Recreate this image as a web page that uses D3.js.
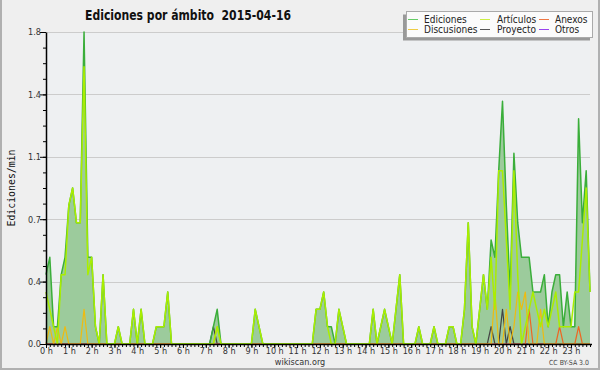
<!DOCTYPE html>
<html><head><meta charset="utf-8">
<script src="https://cdn.jsdelivr.net/npm/d3@7"></script>
<style>
body{margin:0;background:#efefef}
svg{display:block}
text{font-family:"DejaVu Sans",sans-serif}
</style>
</head><body>
<svg id="c" width="600" height="370"></svg>
<script>
// ---- data: values per 10-minute bin (edits/min), 144 bins for 2015-04-16
const hourLabels = d3.range(24).map(h => h + " h");
const yTickValues = [0, 0.36, 0.72, 1.08, 1.44, 1.8];
const seriesNames = ["Ediciones", "Artículos", "Anexos", "Discusiones", "Proyecto", "Otros"];
const ediciones = [
  0.4,0.5,0.1,0.1,0.4,0.5,0.8,0.9,0.7,0.7,1.8,0.5,
  0.5,0.1,0,0.4,0,0,0,0.1,0,0,0,0.2,
  0,0.2,0,0,0,0.1,0.1,0.1,0.3,0,0,0,
  0,0,0,0,0,0,0,0,0.1,0.2,0,0,
  0,0,0,0,0,0,0,0.2,0.1,0,0,0,
  0,0,0,0,0,0,0,0,0,0,0,0.2,
  0.2,0.3,0.1,0.1,0,0.2,0.1,0,0,0,0,0,
  0,0,0.2,0,0.1,0.2,0.1,0,0.2,0.4,0,0,
  0,0,0.1,0,0,0,0.1,0,0,0,0.1,0.1,
  0,0,0.2,0.7,0.1,0,0.2,0.4,0.2,0.6,0.5,1.0,
  1.4,0.8,0.3,1.1,0.7,0.5,0.5,0.5,0.3,0.3,0.3,0.4,
  0.1,0.3,0.4,0.4,0.1,0.3,0.1,0.1,1.3,0.7,1.0,0.3
];
const articulos = [
  0.3,0.2,0.1,0,0.4,0.4,0.8,0.9,0.7,0.7,1.6,0.4,
  0.5,0.1,0,0.4,0,0,0,0.1,0,0,0,0.2,
  0,0.2,0,0,0,0.1,0.1,0.1,0.3,0,0,0,
  0,0,0,0,0,0,0,0,0,0.1,0,0,
  0,0,0,0,0,0,0,0.2,0.1,0,0,0,
  0,0,0,0,0,0,0,0,0,0,0,0.2,
  0.2,0.3,0.1,0,0,0.2,0.1,0,0,0,0,0,
  0,0,0.2,0,0.1,0.2,0.1,0,0.2,0.4,0,0,
  0,0,0.1,0,0,0,0.1,0,0,0,0.1,0.1,
  0,0,0.2,0.7,0.1,0,0.2,0.4,0.2,0.5,0.2,1.0,
  1.0,0.6,0.2,1.0,0.4,0,0.1,0.2,0.3,0.2,0.1,0.2,
  0.1,0.2,0.3,0.1,0.1,0.1,0.1,0.3,0.3,0.6,0.9,0.3
];
const anexos = [
  0,0,0,0,0,0,0,0,0,0,0,0,
  0,0,0,0,0,0,0,0,0,0,0,0,
  0,0,0,0,0,0,0,0,0,0,0,0,
  0,0,0,0,0,0,0,0,0,0,0,0,
  0,0,0,0,0,0,0,0,0,0,0,0,
  0,0,0,0,0,0,0,0,0,0,0,0,
  0,0,0,0,0,0,0,0,0,0,0,0,
  0,0,0,0,0,0,0,0,0,0,0,0,
  0,0,0,0,0,0,0,0,0,0,0,0,
  0,0,0,0,0,0,0,0,0,0,0,0,
  0,0,0,0,0,0,0,0.2,0,0,0,0,
  0,0,0,0.1,0,0,0,0,0.1,0,0,0
];
const discusiones = [
  0,0.1,0,0.1,0,0.1,0,0,0,0,0.2,0,
  0,0,0,0,0,0,0,0,0,0,0,0,
  0,0,0,0,0,0,0,0,0,0,0,0,
  0,0,0,0,0,0,0,0,0,0.1,0,0,
  0,0,0,0,0,0,0,0,0,0,0,0,
  0,0,0,0,0,0,0,0,0,0,0,0,
  0,0,0,0,0,0,0,0,0,0,0,0,
  0,0,0,0,0,0,0,0,0,0,0,0,
  0,0,0,0,0,0,0,0,0,0,0,0,
  0,0,0,0,0,0,0,0,0,0,0.3,0,
  0,0.2,0,0.1,0.3,0.2,0.3,0,0,0,0.2,0,
  0,0,0,0,0,0,0,0,0,0,0,0
];
const proyecto = [
  0,0,0,0,0,0,0,0,0,0,0,0,
  0,0,0,0,0,0,0,0,0,0,0,0,
  0,0,0,0,0,0,0,0,0,0,0,0,
  0,0,0,0,0,0,0,0,0.1,0,0,0,
  0,0,0,0,0,0,0,0,0,0,0,0,
  0,0,0,0,0,0,0,0,0,0,0,0,
  0,0,0,0,0,0,0,0,0,0,0,0,
  0,0,0,0,0,0,0,0,0,0,0,0,
  0,0,0,0,0,0,0,0,0,0,0,0,
  0,0,0,0,0,0,0,0,0,0.1,0,0,
  0.2,0,0.1,0,0,0,0,0,0,0,0,0,
  0,0,0,0,0,0,0,0,0,0,0,0
];
const otros = new Array(144).fill(0);

// ---- drawing
const W = 600, H = 370;
const svg = d3.select("#c");
const colors = {
  Ediciones: "#3aae3a", "Artículos": "#aaee00", Anexos: "#ee6622",
  Discusiones: "#eebb11", Proyecto: "#444444", Otros: "#9944ee"
};
const legendColors = {
  Ediciones: "#66cc66", "Artículos": "#ccee44", Anexos: "#ee7744",
  Discusiones: "#eecc44", Proyecto: "#555555", Otros: "#9944ee"
};

svg.append("rect").attr("width", W).attr("height", H).attr("fill", "#efefef");

const x = d3.scaleLinear().domain([0, 143]).range([46, 590]);
const y = d3.scaleLinear().domain([0, 1.8]).range([344, 32]);

// plot background
svg.append("rect").attr("x", 46).attr("y", 32).attr("width", 544).attr("height", 312).attr("fill", "#eef0f2");

// gridlines
svg.append("g").selectAll("line").data(yTickValues.filter(v => v > 0)).join("line")
  .attr("x1", 46).attr("x2", 590).attr("y1", d => Math.round(y(d)) + 0.5).attr("y2", d => Math.round(y(d)) + 0.5)
  .attr("stroke", "#cccccc").attr("stroke-width", 1);

const idx = d3.range(144);
const area = d3.area().x(i => x(i)).y0(y(0)).y1(i => y(ediciones[i]));
svg.append("path").datum(idx).attr("d", area).attr("fill", "#9ccb9c");

const series = [
  ["Otros", otros, 1.2],
  ["Proyecto", proyecto, 1.2],
  ["Anexos", anexos, 1.2],
  ["Discusiones", discusiones, 1.2],
  ["Ediciones", ediciones, 1.5],
  ["Artículos", articulos, 1.5]
];
series.forEach(([name, vals, w]) => {
  const line = d3.line().x(i => x(i)).y(i => y(vals[i]));
  svg.append("path").datum(idx).attr("d", line).attr("fill", "none")
    .attr("stroke", colors[name]).attr("stroke-width", w).attr("stroke-linejoin", "round");
});

// axes
const yMinor = d3.range(0, 21).map(k => k * 0.09);
svg.append("g").attr("transform", "translate(46,0)")
  .call(d3.axisLeft(y).tickValues(yMinor).tickSize(3).tickFormat("").tickSizeOuter(0))
  .call(g => g.select(".domain").remove());
const gy = svg.append("g").attr("transform", "translate(46,0)")
  .call(d3.axisLeft(y).tickValues(yTickValues).tickSize(6).tickPadding(-1).tickFormat(d3.format(".1f")).tickSizeOuter(0));
gy.selectAll("text").attr("class", "cond").attr("font-size", 9).attr("fill", "#333").attr("font-family", "DejaVu Sans");
gy.select(".domain").attr("stroke-width", 1.5);

svg.append("g").attr("transform", "translate(0,344)")
  .call(d3.axisBottom(x).tickValues(idx).tickSize(3).tickFormat("").tickSizeOuter(0))
  .call(g => g.select(".domain").remove());
const gx = svg.append("g").attr("transform", "translate(0,344)")
  .call(d3.axisBottom(x).tickValues(d3.range(24).map(h => h * 6)).tickSize(4).tickPadding(0)
    .tickFormat((d, i) => hourLabels[i]).tickSizeOuter(0));
gx.selectAll("text").attr("class", "cond").attr("font-size", 9).attr("fill", "#333").attr("font-family", "DejaVu Sans");
gx.select(".domain").attr("d", "M46,0.5H592").attr("stroke-width", 1.5);

// titles
svg.append("text").attr("x", 85).attr("y", 19.5).attr("font-size", 14).attr("font-weight", "bold")
  .attr("fill", "#111").style("white-space", "pre")
  .attr("textLength", 206).attr("lengthAdjust", "spacingAndGlyphs")
  .text("Ediciones por ámbito  2015-04-16");
svg.append("text").attr("transform", "translate(15,188) rotate(-90)").attr("text-anchor", "middle")
  .attr("font-family", "DejaVu Sans Mono").style("font-family", "'DejaVu Sans Mono',monospace")
  .attr("font-size", 11).attr("fill", "#111")
  .attr("textLength", 77).attr("lengthAdjust", "spacingAndGlyphs").text("Ediciones/min");
svg.append("text").attr("x", 300).attr("y", 364.5).attr("text-anchor", "middle").attr("font-size", 9)
  .attr("fill", "#333").attr("class", "cond").text("wikiscan.org");
svg.append("text").attr("x", 549).attr("y", 365).attr("font-size", 7).attr("fill", "#444")
  .attr("textLength", 40).attr("lengthAdjust", "spacingAndGlyphs").text("CC BY-SA 3.0");

// legend
svg.append("rect").attr("x", 403).attr("y", 14.5).attr("width", 187).attr("height", 26).attr("fill", "#999");
svg.append("rect").attr("x", 406.5).attr("y", 11.5).attr("width", 186).attr("height", 26)
  .attr("fill", "#fbfbfb").attr("stroke", "#aaa");
const colLineX = [408, 480, 539], colTextX = [424, 497, 555], rowY = [19, 29];
seriesNames.forEach((name, k) => {
  const c = k % 3, r = Math.floor(k / 3);
  svg.append("line").attr("x1", colLineX[c]).attr("x2", colLineX[c] + 10)
    .attr("y1", rowY[r] + 0.5).attr("y2", rowY[r] + 0.5).attr("stroke", legendColors[name]).attr("stroke-width", 1);
  svg.append("text").attr("class", "cond").attr("x", colTextX[c]).attr("y", rowY[r] + 3.5)
    .attr("font-size", 10).attr("fill", "#222").text(name);
});

// outer frame
svg.append("path").attr("d", "M1,0V369H599V0").attr("fill", "none").attr("stroke", "#b0b0b0").attr("stroke-width", 2);

// emulate condensed face
svg.selectAll("text.cond").each(function () {
  const L = this.getComputedTextLength();
  d3.select(this).attr("textLength", (L * 0.9).toFixed(1)).attr("lengthAdjust", "spacingAndGlyphs");
});
</script>
</body></html>
